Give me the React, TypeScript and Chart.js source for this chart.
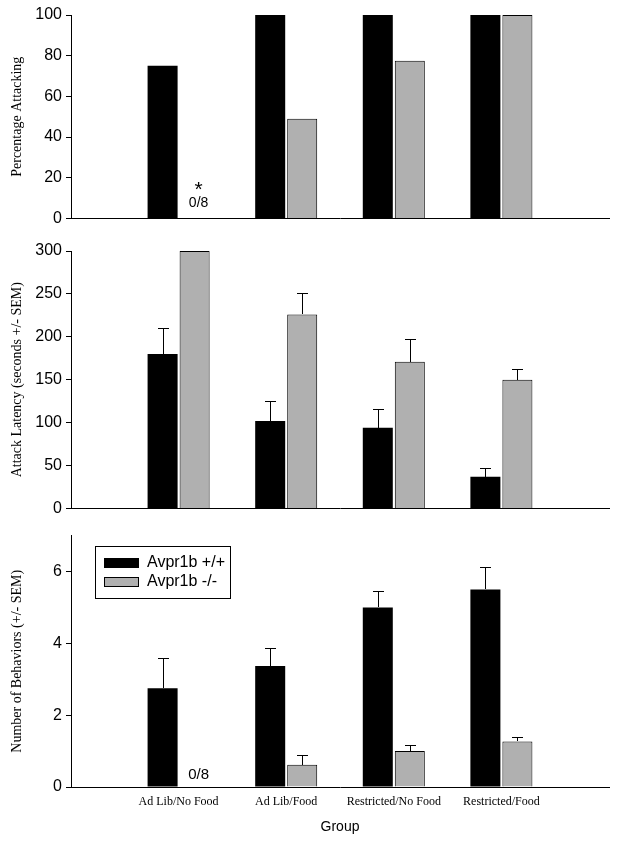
import React, { useEffect, useRef } from "react";
import { Chart, registerables } from "chart.js";

Chart.register(...registerables);

// ---------- data ----------
const groups = ["", "Ad Lib/No Food", "Ad Lib/Food", "Restricted/No Food", "Restricted/Food", ""];
const seriesNames = ["Avpr1b +/+", "Avpr1b -/-"];

const pctWT = [null, 75, 100, 100, 100, null];
const pctKO = [null, 0, 49, 77.5, 100, null];
const pctTicks = [0, 20, 40, 60, 80, 100];

const latWT = [null, 180, 102, 94, 37, null];
const latWTErr = [null, 30, 23, 22, 10, null];
const latKO = [null, 300, 226, 171, 150, null];
const latKOErr = [null, 0, 25, 27, 13, null];
const latTicks = [0, 50, 100, 150, 200, 250, 300];

const behWT = [null, 2.75, 3.37, 5.0, 5.5, null];
const behWTErr = [null, 0.85, 0.5, 0.45, 0.62, null];
const behKO = [null, 0, 0.62, 1.0, 1.27, null];
const behKOErr = [null, 0, 0.27, 0.18, 0.13, null];
const behTicks = [0, 2, 4, 6];

const topNotes = [
  { index: 1, dataset: 1, value: 14, text: "*", size: 21 },
  { index: 1, dataset: 1, value: 7.4, text: "0/8", size: 14 },
];
const bottomNotes = [{ index: 1, dataset: 1, value: 0.33, text: "0/8", size: 15 }];

// ---------- styles ----------
const SANS = "'Liberation Sans', Arial, Helvetica, sans-serif";
const SERIF = "'Liberation Serif', 'Times New Roman', serif";
const BLACK = "#000000";
const GRAY = "#b0b0b0";

const errorBarPlugin = {
  id: "errorBars",
  afterDatasetsDraw(chart: any) {
    const ctx = chart.ctx;
    const yScale = chart.scales.y;
    ctx.save();
    ctx.strokeStyle = BLACK;
    ctx.lineWidth = 1;
    chart.data.datasets.forEach((ds: any, i: number) => {
      if (!ds.errorBars) return;
      const meta = chart.getDatasetMeta(i);
      meta.data.forEach((el: any, j: number) => {
        const v = ds.data[j];
        const e = ds.errorBars[j];
        if (v == null || !e) return;
        const x = Math.round(el.x) + 0.5;
        const y0 = Math.round(yScale.getPixelForValue(v));
        const y1 = Math.round(yScale.getPixelForValue(v + e)) + 0.5;
        ctx.beginPath();
        ctx.moveTo(x, y0);
        ctx.lineTo(x, y1);
        ctx.moveTo(x - 5.5, y1);
        ctx.lineTo(x + 5.5, y1);
        ctx.stroke();
      });
    });
    ctx.restore();
  },
};

const notesPlugin = {
  id: "notes",
  afterDatasetsDraw(chart: any, _args: any, opts: any) {
    const items = opts && opts.items;
    if (!items || !items.length) return;
    const ctx = chart.ctx;
    const yScale = chart.scales.y;
    ctx.save();
    ctx.fillStyle = BLACK;
    ctx.textAlign = "center";
    ctx.textBaseline = "middle";
    items.forEach((n: any) => {
      const el = chart.getDatasetMeta(n.dataset).data[n.index];
      ctx.font = `${n.size}px ${SANS}`;
      ctx.fillText(n.text, el.x + 4, yScale.getPixelForValue(n.value));
    });
    ctx.restore();
  },
};

const boxLegendPlugin = {
  id: "boxLegend",
  afterDraw(chart: any, _args: any, opts: any) {
    if (!opts || !opts.show) return;
    const ctx = chart.ctx;
    const bx = 95.5, by = 24.5, bw = 135, bh = 52;
    ctx.save();
    ctx.fillStyle = "#ffffff";
    ctx.fillRect(bx, by, bw, bh);
    ctx.strokeStyle = BLACK;
    ctx.lineWidth = 1;
    ctx.strokeRect(bx, by, bw, bh);
    chart.data.datasets.forEach((ds: any, i: number) => {
      const sy = 36 + i * 19;
      ctx.fillStyle = ds.backgroundColor;
      ctx.fillRect(104, sy, 35, 10);
      ctx.strokeStyle = BLACK;
      ctx.strokeRect(104.5, sy + 0.5, 34, 9);
      ctx.fillStyle = BLACK;
      ctx.font = `16px ${SANS}`;
      ctx.textAlign = "left";
      ctx.textBaseline = "middle";
      ctx.fillText(ds.label, 147, sy + 5);
    });
    ctx.restore();
  },
};

function makeConfig(p: any) {
  const datasets = [
    {
      label: seriesNames[0],
      data: p.wt,
      errorBars: p.wtErr,
      backgroundColor: BLACK,
      borderColor: BLACK,
      borderWidth: 0,
      categoryPercentage: 0.595,
      barPercentage: 0.9375,
    },
    {
      label: seriesNames[1],
      data: p.ko,
      errorBars: p.koErr,
      backgroundColor: GRAY,
      borderColor: BLACK,
      borderWidth: (c: any) => (c.raw ? 1 : 0),
      categoryPercentage: 0.595,
      barPercentage: 0.9375,
    },
  ];
  return {
    type: "bar",
    data: { labels: groups, datasets },
    plugins: [errorBarPlugin, notesPlugin, boxLegendPlugin],
    options: {
      responsive: false,
      maintainAspectRatio: false,
      animation: false,
      layout: { padding: { left: 0, right: 13, top: p.padTop, bottom: 0 } },
      plugins: {
        legend: { display: false },
        tooltip: { enabled: false },
        notes: { items: p.notes || [] },
        boxLegend: { show: !!p.legend },
      },
      scales: {
        x: {
          type: "category",
          offset: false,
          grid: { display: false },
          border: { display: true, color: BLACK, width: 1 },
          ticks: {
            display: !!p.showX,
            autoSkip: false,
            maxRotation: 0,
            padding: 0,
            color: BLACK,
            font: { family: SERIF, size: 12 },
          },
          title: {
            display: !!p.showX,
            text: "Group",
            color: BLACK,
            font: { family: SANS, size: 14 },
            padding: { top: 0, bottom: 6 },
          },
          afterFit: (s: any) => {
            s.height = p.xHeight;
          },
        },
        y: {
          type: "linear",
          min: 0,
          max: p.max,
          afterBuildTicks: (s: any) => {
            s.ticks = p.ticks.map((v: number) => ({ value: v }));
          },
          grid: {
            display: true,
            drawOnChartArea: false,
            drawTicks: true,
            tickLength: 5,
            color: BLACK,
            tickColor: BLACK,
            lineWidth: 1,
          },
          border: { display: true, color: BLACK, width: 1 },
          ticks: {
            padding: 4,
            color: BLACK,
            font: { family: SANS, size: 16 },
          },
          title: {
            display: true,
            text: p.title,
            color: BLACK,
            font: { family: SERIF, size: 14 },
            padding: { top: 9, bottom: 0 },
          },
          afterFit: (s: any) => {
            s.width = 71;
          },
        },
      },
    },
  };
}

function Panel(props: any) {
  const ref = useRef<HTMLCanvasElement | null>(null);
  useEffect(() => {
    if (!ref.current) return;
    const chart = new Chart(ref.current, makeConfig(props.cfg) as any);
    return () => chart.destroy();
  }, []);
  return (
    <div style={{ position: "absolute", left: 0, top: props.top, width: 622, height: props.height }}>
      <canvas ref={ref} width={622} height={props.height} style={{ display: "block", width: 622, height: props.height }} />
    </div>
  );
}

export default function App() {
  return (
    <div style={{ position: "absolute", left: 0, top: 0, width: 622, height: 842, background: "#fff" }}>
      <Panel
        top={0}
        height={232}
        cfg={{ wt: pctWT, ko: pctKO, max: 100, ticks: pctTicks, title: "Percentage Attacking", padTop: 15, xHeight: 13, notes: topNotes }}
      />
      <Panel
        top={232}
        height={290}
        cfg={{ wt: latWT, wtErr: latWTErr, ko: latKO, koErr: latKOErr, max: 300, ticks: latTicks, title: "Attack Latency (seconds +/- SEM)", padTop: 19, xHeight: 12 }}
      />
      <Panel
        top={522}
        height={320}
        cfg={{ wt: behWT, wtErr: behWTErr, ko: behKO, koErr: behKOErr, max: 7, ticks: behTicks, title: "Number of Behaviors (+/- SEM)", padTop: 8, xHeight: 55, showX: true, legend: true, notes: bottomNotes }}
      />
    </div>
  );
}
